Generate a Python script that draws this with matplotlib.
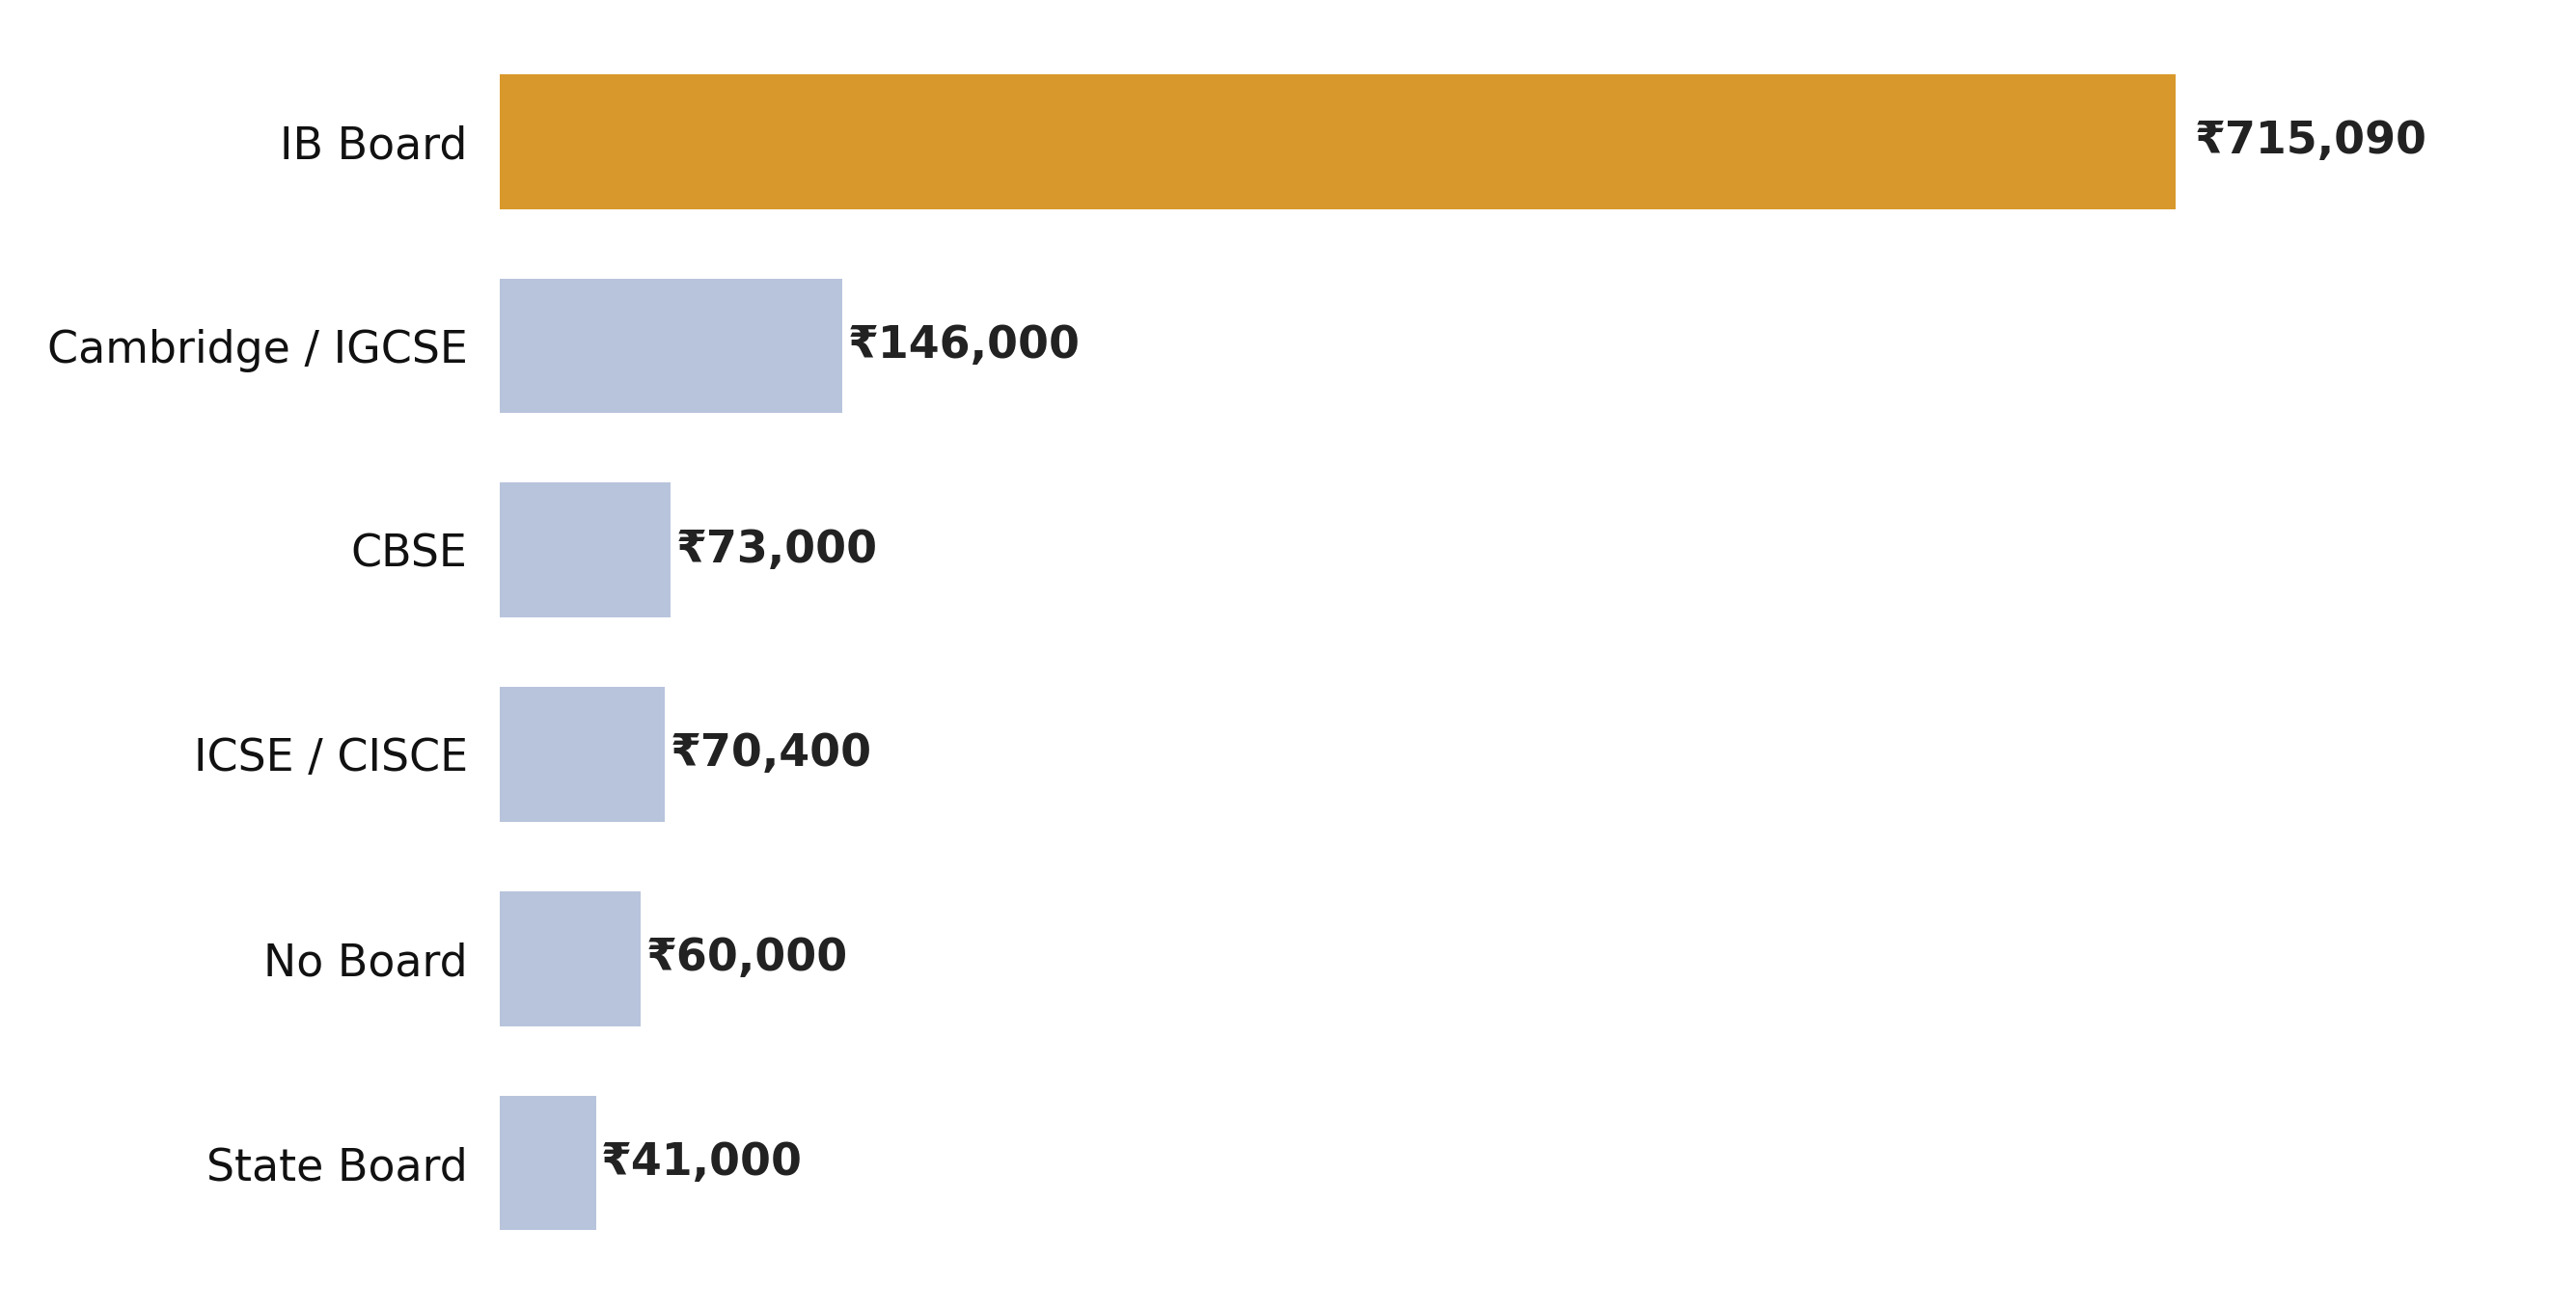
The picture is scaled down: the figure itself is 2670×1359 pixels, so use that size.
import matplotlib
matplotlib.use("Agg")
import matplotlib.pyplot as plt

categories = ["IB Board", "Cambridge / IGCSE", "CBSE", "ICSE / CISCE", "No Board", "State Board"]
values = [715090, 146000, 73000, 70400, 60000, 41000]
labels = ["₹715,090", "₹146,000", "₹73,000", "₹70,400", "₹60,000", "₹41,000"]
colors = ["#D9982B"] + ["#B8C4DC"] * 5

fig = plt.figure(figsize=(13.35, 6.795), dpi=200)
ax = fig.add_axes([0.194, 0.035, 0.776, 0.935])
y = list(range(len(categories)))[::-1]
ax.barh(y, values, height=0.66, color=colors)
ax.set_ylim(-0.5, 5.5)
ax.set_xlim(0, 853000)
ax.set_yticks(y)
ax.set_yticklabels(categories, fontsize=16.5, color="#111111")
ax.tick_params(axis="y", length=0, pad=12)
ax.set_xticks([])
for s in ax.spines.values():
    s.set_visible(False)
for i, (yy, v, l) in enumerate(zip(y, values, labels)):
    off = 7 if i == 0 else 2
    ax.annotate(l, (v, yy), xytext=(off, 0), textcoords="offset points",
                va="center", ha="left", fontsize=16.5, fontweight="bold", color="#222222")
fig.savefig("out.png", dpi=200)
